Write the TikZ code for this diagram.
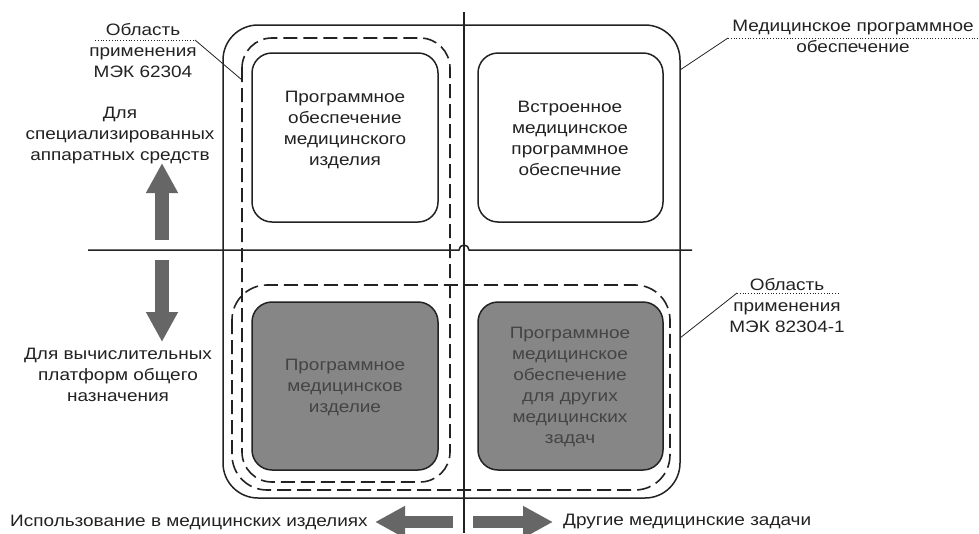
\documentclass[tikz,border=0pt]{standalone}
\usepackage{fontspec}
\setmainfont{Liberation Sans}[FakeStretch=1.15]
\usetikzlibrary{arrows.meta}
\definecolor{ink}{HTML}{222222}
\definecolor{boxgray}{HTML}{868686}
\definecolor{arrgray}{HTML}{666666}
\definecolor{graytext}{HTML}{444444}
\tikzset{
  every node/.style={font=\fontsize{16.5}{21}\selectfont, text=ink, align=center, inner sep=0pt},
  solidline/.style={draw=ink, line width=1.5pt},
  dashline/.style={draw=ink, line width=1.6pt, dash pattern=on 14pt off 6pt},
  inbox/.style={draw=ink, line width=1.5pt, rounded corners=20pt},
  leader/.style={draw=ink, line width=0.8pt},
  dotline/.style={draw=ink, line width=0.8pt, dotted},
  blockarrow/.style={draw=arrgray, line width=14pt, -{Triangle[length=30pt,width=30pt]}},
}
\begin{document}
\begin{tikzpicture}[x=1pt,y=-1pt]
\useasboundingbox (0,0) rectangle (979,533);
% outer medical software boundary
\draw[solidline, rounded corners=35pt] (223,25) rectangle (680,498);
% IEC 62304 scope
\draw[dashline, rounded corners=30pt] (242,38) rectangle (450,482);
% IEC 82304-1 scope
\draw[dashline, rounded corners=35pt] (232,285) rectangle (670,490);
% inner boxes
\node[inbox, minimum width=186pt, minimum height=169pt] (tl) at (345,137.5) {};
\node[inbox, minimum width=185pt, minimum height=169pt] (tr) at (570.5,137.5) {};
\node[inbox, fill=boxgray, minimum width=186pt, minimum height=168pt] (bl) at (345,386) {};
\node[inbox, fill=boxgray, minimum width=185pt, minimum height=168pt] (br) at (570.5,386) {};
\node (tlt) at (345,130) {Программное\\обеспечение\\медицинского\\изделия};
\node (trt) at (570,138) {Встроенное\\медицинское\\программное\\обеспечние};
\node[text=graytext] (blt) at (345,387) {Программное\\медицинсков\\изделие};
\node[text=graytext] (brt) at (570,387) {Программное\\медицинское\\обеспечение\\для других\\медицинских\\задач};
% axes
\coordinate (vtop) at (464,12);
\coordinate (vbot) at (464,533);
\coordinate (hl) at (88,250);
\coordinate (hr) at (692,250);
\draw[solidline] (vtop) -- (vbot);
\draw[solidline] (hl) -- (459,250) arc[start angle=180, end angle=0, radius=5pt] -- (hr);
% labels left
\node (l62) at (143,51) {Область\\применения\\МЭК 62304};
\draw[dotline] (95,40) -- (195,40);
\draw[leader] (195,40) -- (242,80);
\node (lspec) at (120,136) {Для\\специализированных\\аппаратных средств};
\node (lgen) at (118,375) {Для вычислительных\\платформ общего\\назначения};
% arrows vertical
\draw[blockarrow] (162,240) -- (162,163);
\draw[blockarrow] (162,260) -- (162,342);
% bottom
\node[anchor=west] (luse) at (10,522) {Использование в медицинских изделиях};
\node[anchor=west] (lother) at (563,522) {Другие медицинские задачи};
\draw[blockarrow, line width=12pt] (453,522) -- (375,522);
\draw[blockarrow, line width=12pt] (473,522) -- (553,522);
% right labels
\node (lmed) at (853,36.5) {Медицинское программное\\обеспечение};
\draw[dotline] (728,38) -- (979,38);
\draw[leader] (728,38) -- (680,70);
\node (l82) at (787,306) {Область\\применения\\МЭК 82304-1};
\draw[dotline] (737,293) -- (840,293);
\draw[leader] (737,293) -- (680,338);
\end{tikzpicture}
\end{document}
